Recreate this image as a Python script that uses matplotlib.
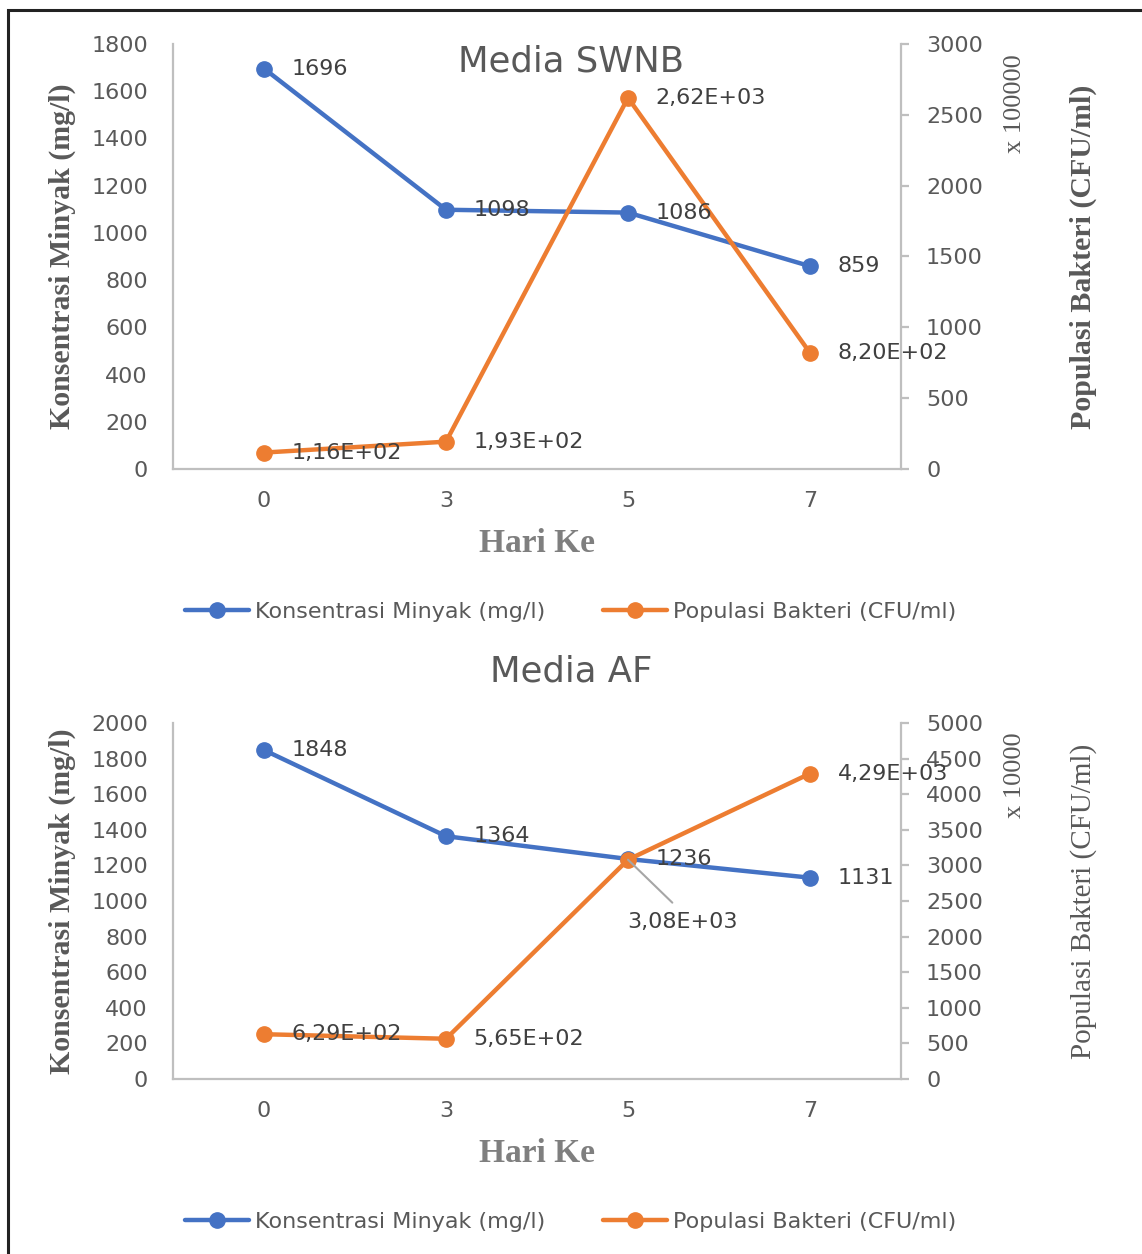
import matplotlib
matplotlib.use('Agg')
import matplotlib.pyplot as plt
from matplotlib.patches import Rectangle

plt.rcParams['font.family'] = ['DejaVu Sans']

hari = ['0', '3', '5', '7']

# Media SWNB
swnb_minyak = [1696, 1098, 1086, 859]
swnb_bakteri = [116, 193, 2620, 820]          # x 100000
swnb_bakteri_lbl = ['1,16E+02', '1,93E+02', '2,62E+03', '8,20E+02']

# Media AF
af_minyak = [1848, 1364, 1236, 1131]
af_bakteri = [629, 565, 3080, 4290]           # x 10000
af_bakteri_lbl = ['6,29E+02', '5,65E+02', '3,08E+03', '4,29E+03']

BLUE = '#4472C4'
ORANGE = '#ED7D31'
GRAY = '#595959'
SPINE = '#BFBFBF'
SERIF = ['Liberation Serif', 'DejaVu Serif']
FS = 16

W, H = 1142, 1254
fig = plt.figure(figsize=(W / 100, H / 100), dpi=100)

# frame round the figure (only top and left edges are visible)
fig.patches.append(Rectangle((8 / W, -0.05), 1.1, 1 - 10 / H + 0.05, transform=fig.transFigure,
                             fill=False, edgecolor='#222222', linewidth=2.2))


def panel(rect, minyak, bakteri, bakteri_lbl, y1max, y2max, y2step, skala, title, title_y,
          legend_y, right_bold, special=None):
    ax = fig.add_axes(rect)
    tw = ax.twinx()
    x = range(len(hari))

    ax.plot(x, minyak, color=BLUE, lw=3.2, marker='o', ms=11, label='Konsentrasi Minyak (mg/l)',
            solid_capstyle='round')
    tw.plot(x, bakteri, color=ORANGE, lw=3.2, marker='o', ms=11, label='Populasi Bakteri (CFU/ml)',
            solid_capstyle='round')

    ax.set_xlim(-0.5, len(hari) - 0.5)
    ax.set_xticks(list(x))
    ax.set_xticklabels(hari)
    ax.set_ylim(0, y1max)
    ax.set_yticks(range(0, y1max + 1, 200))
    tw.set_ylim(0, y2max)
    tw.set_yticks(range(0, y2max + 1, y2step))

    for a in (ax, tw):
        for s in a.spines.values():
            s.set_visible(False)
    ax.spines['left'].set_visible(True)
    ax.spines['bottom'].set_visible(True)
    tw.spines['right'].set_visible(True)
    for s in (ax.spines['left'], ax.spines['bottom'], tw.spines['right']):
        s.set_color(SPINE)
        s.set_linewidth(1.6)

    ax.tick_params(axis='y', length=0, pad=18, labelsize=FS, labelcolor=GRAY)
    ax.tick_params(axis='x', length=0, pad=16, labelsize=FS, labelcolor=GRAY)
    tw.tick_params(axis='y', length=6, width=1.6, color=SPINE, pad=12, labelsize=FS, labelcolor=GRAY)

    ax.set_xlabel('Hari Ke', family=SERIF, fontsize=24, fontweight='bold', color='#7F7F7F', labelpad=12)
    ax.set_ylabel('Konsentrasi Minyak (mg/l)', family=SERIF, fontsize=21.5, fontweight='bold', color=GRAY)
    ax.yaxis.set_label_coords(-0.133, 0.5)
    tw.set_ylabel('Populasi Bakteri (CFU/ml)', family=SERIF, fontsize=21.5 if right_bold else 21,
                  fontweight='bold' if right_bold else 'normal', color=GRAY, rotation=90)
    tw.yaxis.set_label_coords(1.232, 0.5)
    tw.text(1.157, 0.975, skala, transform=ax.transAxes, rotation=90, ha='center', va='top',
            family=SERIF, fontsize=19, color=GRAY)

    for i, v in enumerate(minyak):
        tw.annotate(str(v), xy=(i, v), xycoords=ax.transData, xytext=(20, 0),
                    textcoords='offset points', va='center', ha='left', fontsize=FS, color='#404040')
    for i, (v, t) in enumerate(zip(bakteri, bakteri_lbl)):
        if special is not None and i == special:
            tw.annotate(t, xy=(i, v), xytext=(39, -45), textcoords='offset points',
                        va='center', ha='center', fontsize=FS, color='#404040',
                        arrowprops=dict(arrowstyle='-', color='#A6A6A6', lw=1.5,
                                        relpos=(0.5, 1.0), shrinkA=7, shrinkB=0))
        else:
            tw.annotate(t, xy=(i, v), xytext=(20, 0), textcoords='offset points',
                        va='center', ha='left', fontsize=FS, color='#404040')

    fig.text(0.5, title_y, title, ha='center', va='center', fontsize=25.5, color=GRAY)

    h1, l1 = ax.get_legend_handles_labels()
    h2, l2 = tw.get_legend_handles_labels()
    fig.legend(h1 + h2, l1 + l2, loc='center', bbox_to_anchor=(0.5, legend_y), ncol=2,
               frameon=False, fontsize=FS, labelcolor=GRAY, handlelength=2.85,
               handletextpad=0.3, columnspacing=2.6)
    return ax, tw


panel([173 / W, 1 - 469 / H, 728 / W, 425 / H], swnb_minyak, swnb_bakteri, swnb_bakteri_lbl,
      1800, 3000, 500, 'x 100000', 'Media SWNB', 1 - 61 / H, 1 - 612 / H, True)
panel([173 / W, 1 - 1079 / H, 728 / W, 356 / H], af_minyak, af_bakteri, af_bakteri_lbl,
      2000, 5000, 500, 'x 10000', 'Media AF', 1 - 671 / H, 1 - 1222 / H, False, special=2)

fig.savefig('out.png', dpi=100)
